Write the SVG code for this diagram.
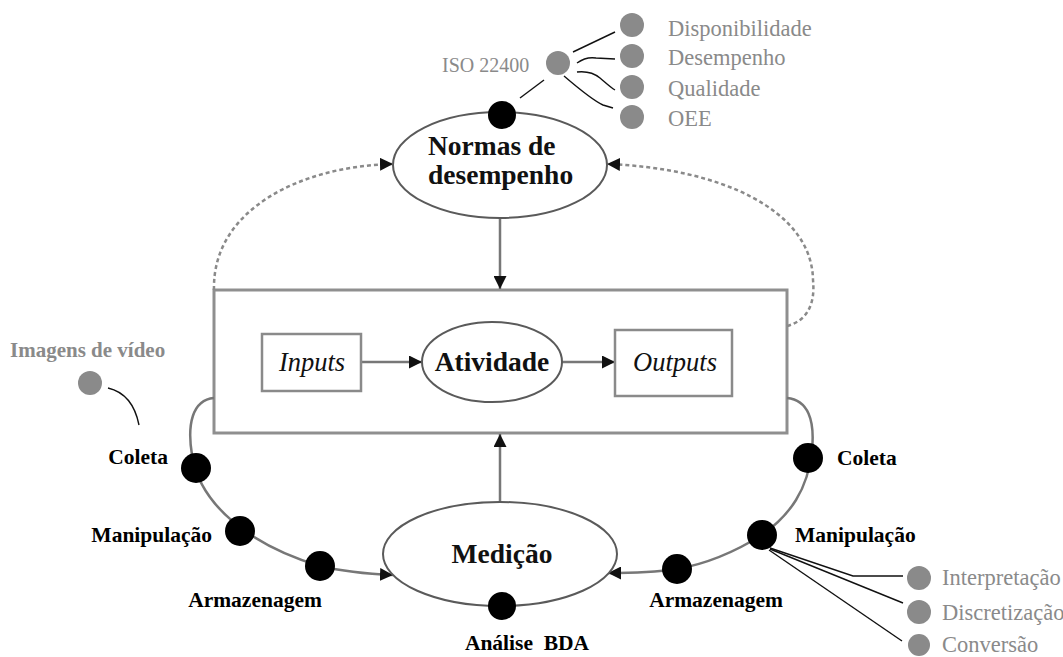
<svg xmlns="http://www.w3.org/2000/svg" width="1063" height="657" viewBox="0 0 1063 657">
  <style>
    .bg { fill: #ffffff; }
    .frame { fill: #ffffff; stroke: #8f8f8f; stroke-width: 3; }
    .box { fill: #ffffff; stroke: #8a8a8a; stroke-width: 2.5; }
    .ell { fill: #ffffff; stroke: #5a5a5a; stroke-width: 2; }
    .flow { fill: none; stroke: #777777; stroke-width: 2.5; }
    .dash { fill: none; stroke: #8a8a8a; stroke-width: 2.5; stroke-dasharray: 4 3; }
    .thin { fill: none; stroke: #111111; stroke-width: 1.4; }
    .dot { fill: #000000; }
    .gdot { fill: #8a8a8a; }
    .lbl { font-family: "Liberation Serif", "Times New Roman", serif; font-weight: bold; font-size: 21.5px; fill: #000000; }
    .big { font-family: "Liberation Serif", "Times New Roman", serif; font-weight: bold; font-size: 27.5px; fill: #111111; }
    .ital { font-family: "Liberation Serif", "Times New Roman", serif; font-style: italic; font-size: 26.5px; fill: #111111; }
    .gray { font-family: "Liberation Serif", "Times New Roman", serif; font-size: 22.5px; fill: #8a8a8a; }
    .grayb { font-family: "Liberation Serif", "Times New Roman", serif; font-weight: bold; font-size: 21px; fill: #8a8a8a; }
  </style>
  <defs>
    <marker id="ah" viewBox="0 0 12 12" refX="12" refY="6" markerWidth="13" markerHeight="13" orient="auto" markerUnits="userSpaceOnUse">
      <path d="M0,0 L12,6 L0,12 z" fill="#111111"/>
    </marker>
  </defs>

  <rect class="bg" x="0" y="0" width="1063" height="657"/>

  <!-- activity frame (drawn first so the inner connectors sit on top) -->
  <g id="activity-frame">
    <rect class="frame" x="214" y="290" width="573" height="143"/>
  </g>

  <!-- connectors -->
  <g id="connectors">
    <!-- feedback loops to the performance standards -->
    <path class="dash" d="M214,290 C212,210 300,166 393,164" marker-end="url(#ah)"/>
    <path class="dash" d="M787,326 C810,320 815,300 813,280 C812,210 720,168 607,164" marker-end="url(#ah)"/>
    <!-- standards to activity, measurement to activity -->
    <line class="flow" x1="500" y1="218" x2="500" y2="289" marker-end="url(#ah)"/>
    <line class="flow" x1="500" y1="502" x2="500" y2="434" marker-end="url(#ah)"/>
    <!-- inputs / activity / outputs -->
    <line class="flow" x1="361" y1="362" x2="422" y2="362" marker-end="url(#ah)"/>
    <line class="flow" x1="562" y1="362" x2="615" y2="362" marker-end="url(#ah)"/>
    <!-- data paths into measurement -->
    <path class="flow" d="M214,398 C192,400 187,425 192,455 C200,505 250,545 320,566 C345,572 370,574 393,575" marker-end="url(#ah)"/>
    <path class="flow" d="M787,398 C808,400 815,420 812,450 C808,490 790,515 762,535 C730,555 700,565 677,569 C650,573 630,573 608,573" marker-end="url(#ah)"/>
    <!-- ISO 22400 branches -->
    <line class="thin" x1="520" y1="98" x2="544" y2="80"/>
    <line class="thin" x1="573" y1="52" x2="615" y2="32"/>
    <path class="thin" d="M577,63 C584,58 590,57 596,58 L615,59"/>
    <path class="thin" d="M577,72 C586,71 594,73 600,78 C606,83 610,87 615,90"/>
    <path class="thin" d="M564,76 C578,88 592,100 603,105 L613,108"/>
    <!-- video images branch -->
    <path class="thin" d="M108,388 C125,392 135,405 139,425"/>
    <!-- manipulation branches -->
    <path class="thin" d="M770,548 L853,576 L903,576"/>
    <line class="thin" x1="770" y1="549" x2="903" y2="603"/>
    <line class="thin" x1="769" y1="550" x2="902" y2="641"/>
  </g>

  <g id="inputs">
    <rect class="box" x="262" y="334" width="99" height="57"/>
    <text class="ital" x="312" y="371" text-anchor="middle">Inputs</text>
  </g>

  <g id="atividade">
    <ellipse class="ell" cx="492" cy="362" rx="70" ry="40"/>
    <text class="big" x="492" y="371" text-anchor="middle">Atividade</text>
  </g>

  <g id="outputs">
    <rect class="box" x="615" y="330" width="117" height="66"/>
    <text class="ital" x="675" y="371" text-anchor="middle">Outputs</text>
  </g>

  <g id="normas">
    <ellipse class="ell" cx="500" cy="165" rx="107" ry="53"/>
    <text class="big" x="428" y="155">Normas de</text>
    <text class="big" x="428" y="184">desempenho</text>
    <circle class="dot" cx="502" cy="115" r="14"/>
  </g>

  <g id="medicao">
    <ellipse class="ell" cx="500" cy="554" rx="117" ry="52"/>
    <text class="big" x="502" y="563" text-anchor="middle">Medição</text>
    <circle class="dot" cx="502" cy="606" r="14"/>
    <text class="lbl" x="527" y="650" text-anchor="middle" xml:space="preserve">Análise  BDA</text>
  </g>

  <g id="iso22400">
    <text class="gray" x="442" y="72" style="font-size:20px">ISO 22400</text>
    <circle class="gdot" cx="558" cy="63" r="12"/>
  </g>
  <g id="disponibilidade">
    <circle class="gdot" cx="632" cy="25" r="12"/>
    <text class="gray" x="668" y="36">Disponibilidade</text>
  </g>
  <g id="desempenho">
    <circle class="gdot" cx="632" cy="56" r="12"/>
    <text class="gray" x="668" y="65">Desempenho</text>
  </g>
  <g id="qualidade">
    <circle class="gdot" cx="632" cy="87" r="12"/>
    <text class="gray" x="668" y="96">Qualidade</text>
  </g>
  <g id="oee">
    <circle class="gdot" cx="632" cy="117" r="12"/>
    <text class="gray" x="668" y="126">OEE</text>
  </g>

  <g id="imagens-video">
    <text class="grayb" x="10" y="357">Imagens de vídeo</text>
    <circle class="gdot" cx="90" cy="383" r="12"/>
  </g>

  <!-- left collection path -->
  <g id="coleta-esq">
    <circle class="dot" cx="196" cy="468" r="15"/>
    <text class="lbl" x="168" y="464" text-anchor="end">Coleta</text>
  </g>
  <g id="manipulacao-esq">
    <circle class="dot" cx="240" cy="531" r="15"/>
    <text class="lbl" x="212" y="542" text-anchor="end">Manipulação</text>
  </g>
  <g id="armazenagem-esq">
    <circle class="dot" cx="320" cy="566" r="15"/>
    <text class="lbl" x="255" y="607" text-anchor="middle">Armazenagem</text>
  </g>

  <!-- right collection path -->
  <g id="coleta-dir">
    <circle class="dot" cx="808" cy="458" r="15"/>
    <text class="lbl" x="837" y="465">Coleta</text>
  </g>
  <g id="manipulacao-dir">
    <circle class="dot" cx="762" cy="535" r="15"/>
    <text class="lbl" x="795" y="542">Manipulação</text>
  </g>
  <g id="armazenagem-dir">
    <circle class="dot" cx="677" cy="569" r="15"/>
    <text class="lbl" x="716" y="607" text-anchor="middle">Armazenagem</text>
  </g>

  <g id="interpretacao">
    <circle class="gdot" cx="919" cy="578" r="12"/>
    <text class="gray" x="942" y="585">Interpretação</text>
  </g>
  <g id="discretizacao">
    <circle class="gdot" cx="919" cy="612" r="12"/>
    <text class="gray" x="942" y="620">Discretização</text>
  </g>
  <g id="conversao">
    <circle class="gdot" cx="919" cy="645" r="11"/>
    <text class="gray" x="942" y="652">Conversão</text>
  </g>
</svg>
